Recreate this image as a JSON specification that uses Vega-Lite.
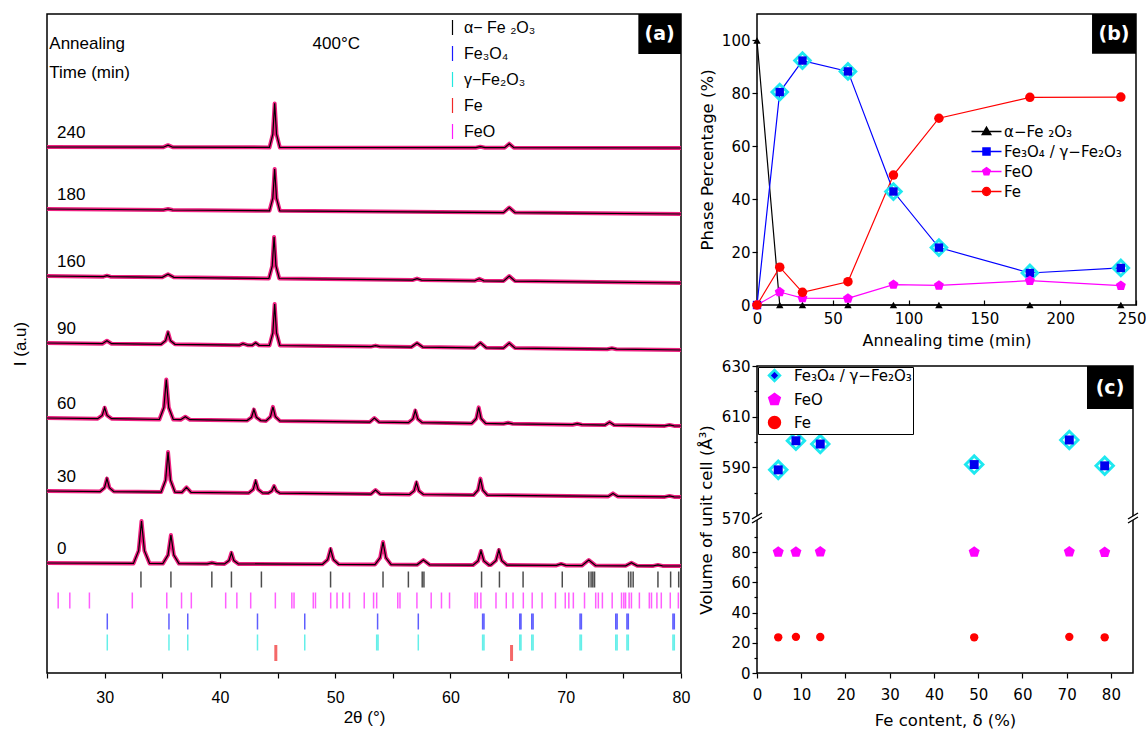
{
"$schema": "https://vega.github.io/schema/vega-lite/v6.json",
"background": "white",
"padding": {"left": 10, "top": 13, "right": 6, "bottom": 0},
"config": {
  "view": {"stroke": "black", "strokeWidth": 1.5},
  "axis": {"grid": false, "domain": false, "tickColor": "black", "labelColor": "black", "titleColor": "black", "titleFontWeight": "normal", "tickWidth": 1.2}
},
"datasets": {
  "xrd": [
    {"s":"240","x":25,"y":526},{"s":"240","x":35.1,"y":525.8},{"s":"240","x":35.5,"y":527.8},{"s":"240","x":35.9,"y":525.8},{"s":"240","x":44.3,"y":525.6},{"s":"240","x":44.59,"y":538.8},{"s":"240","x":44.75,"y":569.6},{"s":"240","x":44.91,"y":538.8},{"s":"240","x":45.2,"y":525.6},{"s":"240","x":62.2,"y":525.3},{"s":"240","x":62.6,"y":526.3},{"s":"240","x":63.0,"y":525.3},{"s":"240","x":64.7,"y":525.3},{"s":"240","x":65.1,"y":529.3},{"s":"240","x":65.5,"y":525.3},{"s":"240","x":80,"y":525},
    {"s":"180","x":25,"y":464},{"s":"180","x":35.1,"y":463.0},{"s":"180","x":35.5,"y":464.0},{"s":"180","x":35.9,"y":463.0},{"s":"180","x":44.3,"y":462.2},{"s":"180","x":44.59,"y":474.8},{"s":"180","x":44.75,"y":504},{"s":"180","x":44.91,"y":474.8},{"s":"180","x":45.2,"y":462.2},{"s":"180","x":64.6,"y":460.4},{"s":"180","x":65.1,"y":465.4},{"s":"180","x":65.6,"y":460.4},{"s":"180","x":80,"y":459},
    {"s":"160","x":25,"y":397},{"s":"160","x":29.9,"y":396.3},{"s":"160","x":30.2,"y":397.3},{"s":"160","x":30.5,"y":396.3},{"s":"160","x":35.0,"y":395.7},{"s":"160","x":35.5,"y":398.7},{"s":"160","x":36.0,"y":395.7},{"s":"160","x":44.25,"y":394.5},{"s":"160","x":44.54,"y":407},{"s":"160","x":44.7,"y":436},{"s":"160","x":44.86,"y":407},{"s":"160","x":45.15,"y":394.5},{"s":"160","x":56.7,"y":392.9},{"s":"160","x":57.1,"y":394.4},{"s":"160","x":57.5,"y":392.9},{"s":"160","x":62.1,"y":392.2},{"s":"160","x":62.5,"y":394.2},{"s":"160","x":62.9,"y":392.2},{"s":"160","x":64.6,"y":391.9},{"s":"160","x":65.1,"y":396.9},{"s":"160","x":65.6,"y":391.9},{"s":"160","x":80,"y":390},
    {"s":"90","x":25,"y":330},{"s":"90","x":29.8,"y":329.3},{"s":"90","x":30.2,"y":332.3},{"s":"90","x":30.6,"y":329.3},{"s":"90","x":34.9,"y":328.7},{"s":"90","x":35.29,"y":332.3},{"s":"90","x":35.5,"y":340.7},{"s":"90","x":35.71,"y":332.3},{"s":"90","x":36.1,"y":328.7},{"s":"90","x":41.7,"y":327.8},{"s":"90","x":42.0,"y":329.3},{"s":"90","x":42.4,"y":327.8},{"s":"90","x":42.8,"y":327.7},{"s":"90","x":43.1,"y":330.2},{"s":"90","x":43.4,"y":327.7},{"s":"90","x":44.3,"y":327.5},{"s":"90","x":44.59,"y":340},{"s":"90","x":44.75,"y":369},{"s":"90","x":44.91,"y":340},{"s":"90","x":45.2,"y":327.5},{"s":"90","x":53.1,"y":326.4},{"s":"90","x":53.5,"y":327.4},{"s":"90","x":53.9,"y":326.4},{"s":"90","x":56.6,"y":325.9},{"s":"90","x":57.1,"y":329.9},{"s":"90","x":57.6,"y":325.9},{"s":"90","x":62.1,"y":325.2},{"s":"90","x":62.6,"y":330.2},{"s":"90","x":63.1,"y":325.2},{"s":"90","x":64.6,"y":324.9},{"s":"90","x":65.1,"y":329.9},{"s":"90","x":65.6,"y":324.9},{"s":"90","x":73.6,"y":323.8},{"s":"90","x":74.0,"y":324.8},{"s":"90","x":74.4,"y":323.8},{"s":"90","x":80,"y":323},
    {"s":"60","x":25,"y":255},{"s":"60","x":29.4,"y":254.3},{"s":"60","x":29.79,"y":257.6},{"s":"60","x":30.0,"y":265.3},{"s":"60","x":30.21,"y":257.6},{"s":"60","x":30.6,"y":254.3},{"s":"60","x":34.75,"y":253.5},{"s":"60","x":35.14,"y":265.5},{"s":"60","x":35.35,"y":293.5},{"s":"60","x":35.56,"y":265.5},{"s":"60","x":35.95,"y":253.5},{"s":"60","x":36.6,"y":253.3},{"s":"60","x":37.0,"y":256.3},{"s":"60","x":37.4,"y":253.3},{"s":"60","x":42.35,"y":252.4},{"s":"60","x":42.74,"y":255.7},{"s":"60","x":42.95,"y":263.4},{"s":"60","x":43.16,"y":255.7},{"s":"60","x":43.55,"y":252.4},{"s":"60","x":44.0,"y":252.1},{"s":"60","x":44.39,"y":256.3},{"s":"60","x":44.6,"y":266.1},{"s":"60","x":44.81,"y":256.3},{"s":"60","x":45.2,"y":252.1},{"s":"60","x":53.0,"y":250.9},{"s":"60","x":53.4,"y":254.9},{"s":"60","x":53.8,"y":250.9},{"s":"60","x":56.35,"y":250.4},{"s":"60","x":56.74,"y":254.0},{"s":"60","x":56.95,"y":262.4},{"s":"60","x":57.16,"y":254.0},{"s":"60","x":57.55,"y":250.4},{"s":"60","x":61.85,"y":249.6},{"s":"60","x":62.24,"y":254.4},{"s":"60","x":62.45,"y":265.6},{"s":"60","x":62.66,"y":254.4},{"s":"60","x":63.05,"y":249.6},{"s":"60","x":64.6,"y":249.2},{"s":"60","x":65.0,"y":250.2},{"s":"60","x":65.4,"y":249.2},{"s":"60","x":70.6,"y":248.3},{"s":"60","x":71.0,"y":249.3},{"s":"60","x":71.4,"y":248.3},{"s":"60","x":73.4,"y":247.9},{"s":"60","x":73.8,"y":250.9},{"s":"60","x":74.2,"y":247.9},{"s":"60","x":78.6,"y":247.1},{"s":"60","x":79.0,"y":248.1},{"s":"60","x":79.4,"y":247.1},{"s":"60","x":80,"y":247},
    {"s":"30","x":25,"y":182},{"s":"30","x":29.6,"y":181.4},{"s":"30","x":29.99,"y":185.3},{"s":"30","x":30.2,"y":194.4},{"s":"30","x":30.41,"y":185.3},{"s":"30","x":30.8,"y":181.4},{"s":"30","x":34.9,"y":180.9},{"s":"30","x":35.29,"y":192.9},{"s":"30","x":35.5,"y":220.9},{"s":"30","x":35.71,"y":192.9},{"s":"30","x":36.1,"y":180.9},{"s":"30","x":36.7,"y":180.7},{"s":"30","x":37.1,"y":185.7},{"s":"30","x":37.5,"y":180.7},{"s":"30","x":42.5,"y":180.0},{"s":"30","x":42.89,"y":183.6},{"s":"30","x":43.1,"y":192.0},{"s":"30","x":43.31,"y":183.6},{"s":"30","x":43.7,"y":180.0},{"s":"30","x":44.2,"y":179.9},{"s":"30","x":44.5,"y":182.0},{"s":"30","x":44.7,"y":186.9},{"s":"30","x":44.9,"y":182.0},{"s":"30","x":45.2,"y":179.9},{"s":"30","x":53.1,"y":178.9},{"s":"30","x":53.5,"y":182.9},{"s":"30","x":53.9,"y":178.9},{"s":"30","x":56.45,"y":178.5},{"s":"30","x":56.84,"y":182.1},{"s":"30","x":57.05,"y":190.5},{"s":"30","x":57.26,"y":182.1},{"s":"30","x":57.65,"y":178.5},{"s":"30","x":62.0,"y":177.9},{"s":"30","x":62.39,"y":182.9},{"s":"30","x":62.6,"y":194.4},{"s":"30","x":62.81,"y":182.9},{"s":"30","x":63.2,"y":177.9},{"s":"30","x":73.7,"y":176.6},{"s":"30","x":74.1,"y":179.6},{"s":"30","x":74.5,"y":176.6},{"s":"30","x":78.6,"y":176.1},{"s":"30","x":79.0,"y":177.1},{"s":"30","x":79.4,"y":176.1},{"s":"30","x":80,"y":176},
    {"s":"0","x":25,"y":110},{"s":"0","x":32.5,"y":109.6},{"s":"0","x":32.95,"y":122.3},{"s":"0","x":33.2,"y":152.0},{"s":"0","x":33.45,"y":122.3},{"s":"0","x":33.9,"y":109.6},{"s":"0","x":35.05,"y":109.4},{"s":"0","x":35.5,"y":118.0},{"s":"0","x":35.75,"y":138.0},{"s":"0","x":36.0,"y":118.0},{"s":"0","x":36.45,"y":109.4},{"s":"0","x":38.9,"y":109.2},{"s":"0","x":39.3,"y":110.2},{"s":"0","x":39.7,"y":109.2},{"s":"0","x":40.4,"y":109.1},{"s":"0","x":40.79,"y":112.4},{"s":"0","x":41.0,"y":120.1},{"s":"0","x":41.21,"y":112.4},{"s":"0","x":41.6,"y":109.1},{"s":"0","x":48.9,"y":108.7},{"s":"0","x":49.35,"y":113.3},{"s":"0","x":49.6,"y":124.0},{"s":"0","x":49.85,"y":113.3},{"s":"0","x":50.3,"y":108.7},{"s":"0","x":53.45,"y":108.4},{"s":"0","x":53.9,"y":115.2},{"s":"0","x":54.15,"y":131.0},{"s":"0","x":54.4,"y":115.2},{"s":"0","x":54.85,"y":108.4},{"s":"0","x":57.1,"y":108.2},{"s":"0","x":57.65,"y":113.0},{"s":"0","x":58.2,"y":108.2},{"s":"0","x":61.95,"y":107.9},{"s":"0","x":62.4,"y":112.1},{"s":"0","x":62.65,"y":122.0},{"s":"0","x":62.9,"y":112.1},{"s":"0","x":63.35,"y":107.9},{"s":"0","x":63.5,"y":107.9},{"s":"0","x":63.95,"y":112.4},{"s":"0","x":64.2,"y":123.0},{"s":"0","x":64.45,"y":112.4},{"s":"0","x":64.9,"y":107.9},{"s":"0","x":69.2,"y":107.6},{"s":"0","x":69.6,"y":109.1},{"s":"0","x":70.0,"y":107.6},{"s":"0","x":71.4,"y":107.4},{"s":"0","x":72.0,"y":113.0},{"s":"0","x":72.6,"y":107.4},{"s":"0","x":75.2,"y":107.2},{"s":"0","x":75.7,"y":110.2},{"s":"0","x":76.2,"y":107.2},{"s":"0","x":77.6,"y":107.1},{"s":"0","x":78.0,"y":108.1},{"s":"0","x":78.4,"y":107.1},{"s":"0","x":80,"y":107}
  ],
  "refs": [
    {"p":"α− Fe ₂O₃","x":33.15},{"p":"α− Fe ₂O₃","x":35.75},{"p":"α− Fe ₂O₃","x":39.3},{"p":"α− Fe ₂O₃","x":41.0},{"p":"α− Fe ₂O₃","x":43.6},{"p":"α− Fe ₂O₃","x":49.6},{"p":"α− Fe ₂O₃","x":54.15},{"p":"α− Fe ₂O₃","x":56.35},{"p":"α− Fe ₂O₃","x":57.55},{"p":"α− Fe ₂O₃","x":57.7},{"p":"α− Fe ₂O₃","x":62.7},{"p":"α− Fe ₂O₃","x":64.25},{"p":"α− Fe ₂O₃","x":66.3},{"p":"α− Fe ₂O₃","x":69.7},{"p":"α− Fe ₂O₃","x":72.0},{"p":"α− Fe ₂O₃","x":72.2},{"p":"α− Fe ₂O₃","x":72.35},{"p":"α− Fe ₂O₃","x":72.5},{"p":"α− Fe ₂O₃","x":75.45},{"p":"α− Fe ₂O₃","x":75.65},{"p":"α− Fe ₂O₃","x":75.85},{"p":"α− Fe ₂O₃","x":78.0},{"p":"α− Fe ₂O₃","x":79.1},{"p":"α− Fe ₂O₃","x":79.8},
    {"p":"FeO","x":25.97},{"p":"FeO","x":26.98},{"p":"FeO","x":28.68},{"p":"FeO","x":32.4},{"p":"FeO","x":35.39},{"p":"FeO","x":36.67},{"p":"FeO","x":37.52},{"p":"FeO","x":40.5},{"p":"FeO","x":41.47},{"p":"FeO","x":42.67},{"p":"FeO","x":44.81},{"p":"FeO","x":46.24},{"p":"FeO","x":46.43},{"p":"FeO","x":48.1},{"p":"FeO","x":48.29},{"p":"FeO","x":49.61},{"p":"FeO","x":50.16},{"p":"FeO","x":50.66},{"p":"FeO","x":51.24},{"p":"FeO","x":52.52},{"p":"FeO","x":53.33},{"p":"FeO","x":53.6},{"p":"FeO","x":55.43},{"p":"FeO","x":55.62},{"p":"FeO","x":57.09},{"p":"FeO","x":58.33},{"p":"FeO","x":59.22},{"p":"FeO","x":59.92},{"p":"FeO","x":62.13},{"p":"FeO","x":62.33},{"p":"FeO","x":62.64},{"p":"FeO","x":63.95},{"p":"FeO","x":64.84},{"p":"FeO","x":65.43},{"p":"FeO","x":66.32},{"p":"FeO","x":67.09},{"p":"FeO","x":67.95},{"p":"FeO","x":69.11},{"p":"FeO","x":69.96},{"p":"FeO","x":70.27},{"p":"FeO","x":70.66},{"p":"FeO","x":71.63},{"p":"FeO","x":72.6},{"p":"FeO","x":72.83},{"p":"FeO","x":73.18},{"p":"FeO","x":74.03},{"p":"FeO","x":74.84},{"p":"FeO","x":75.04},{"p":"FeO","x":75.19},{"p":"FeO","x":75.5},{"p":"FeO","x":75.7},{"p":"FeO","x":76.39},{"p":"FeO","x":77.25},{"p":"FeO","x":77.44},{"p":"FeO","x":77.91},{"p":"FeO","x":78.29},{"p":"FeO","x":79.07},{"p":"FeO","x":79.77},
    {"p":"Fe₃O₄","x":30.23},{"p":"Fe₃O₄","x":35.58},{"p":"Fe₃O₄","x":37.21},{"p":"Fe₃O₄","x":43.26},{"p":"Fe₃O₄","x":47.36},{"p":"Fe₃O₄","x":53.68},{"p":"Fe₃O₄","x":57.21},{"p":"Fe₃O₄","x":62.79},{"p":"Fe₃O₄","x":62.91},{"p":"Fe₃O₄","x":66.01},{"p":"Fe₃O₄","x":66.12},{"p":"Fe₃O₄","x":67.05},{"p":"Fe₃O₄","x":67.17},{"p":"Fe₃O₄","x":71.24},{"p":"Fe₃O₄","x":71.36},{"p":"Fe₃O₄","x":74.34},{"p":"Fe₃O₄","x":74.46},{"p":"Fe₃O₄","x":75.31},{"p":"Fe₃O₄","x":75.43},{"p":"Fe₃O₄","x":79.3},{"p":"Fe₃O₄","x":79.42},
    {"p":"γ−Fe₂O₃","x":30.23},{"p":"γ−Fe₂O₃","x":35.58},{"p":"γ−Fe₂O₃","x":37.21},{"p":"γ−Fe₂O₃","x":43.26},{"p":"γ−Fe₂O₃","x":47.36},{"p":"γ−Fe₂O₃","x":53.6},{"p":"γ−Fe₂O₃","x":53.72},{"p":"γ−Fe₂O₃","x":57.21},{"p":"γ−Fe₂O₃","x":62.79},{"p":"γ−Fe₂O₃","x":62.91},{"p":"γ−Fe₂O₃","x":66.01},{"p":"γ−Fe₂O₃","x":66.12},{"p":"γ−Fe₂O₃","x":67.05},{"p":"γ−Fe₂O₃","x":67.17},{"p":"γ−Fe₂O₃","x":71.24},{"p":"γ−Fe₂O₃","x":71.36},{"p":"γ−Fe₂O₃","x":74.34},{"p":"γ−Fe₂O₃","x":74.46},{"p":"γ−Fe₂O₃","x":75.31},{"p":"γ−Fe₂O₃","x":75.43},{"p":"γ−Fe₂O₃","x":79.3},{"p":"γ−Fe₂O₃","x":79.42},
    {"p":"Fe","x":44.85},{"p":"Fe","x":65.3}
  ],
  "phase": [
    {"s":"α−Fe ₂O₃","t":0,"v":100},{"s":"α−Fe ₂O₃","t":15,"v":0},{"s":"α−Fe ₂O₃","t":30,"v":0},{"s":"α−Fe ₂O₃","t":60,"v":0},{"s":"α−Fe ₂O₃","t":90,"v":0},{"s":"α−Fe ₂O₃","t":120,"v":0},{"s":"α−Fe ₂O₃","t":180,"v":0},{"s":"α−Fe ₂O₃","t":240,"v":0},
    {"s":"Fe₃O₄ / γ−Fe₂O₃","t":0,"v":0},{"s":"Fe₃O₄ / γ−Fe₂O₃","t":15,"v":80.5},{"s":"Fe₃O₄ / γ−Fe₂O₃","t":30,"v":92.4},{"s":"Fe₃O₄ / γ−Fe₂O₃","t":60,"v":88.3},{"s":"Fe₃O₄ / γ−Fe₂O₃","t":90,"v":42.9},{"s":"Fe₃O₄ / γ−Fe₂O₃","t":120,"v":21.7},{"s":"Fe₃O₄ / γ−Fe₂O₃","t":180,"v":12.1},{"s":"Fe₃O₄ / γ−Fe₂O₃","t":240,"v":14.0},
    {"s":"FeO","t":0,"v":0},{"s":"FeO","t":15,"v":4.9},{"s":"FeO","t":30,"v":2.6},{"s":"FeO","t":60,"v":2.5},{"s":"FeO","t":90,"v":7.7},{"s":"FeO","t":120,"v":7.4},{"s":"FeO","t":180,"v":9.2},{"s":"FeO","t":240,"v":7.3},
    {"s":"Fe","t":0,"v":0},{"s":"Fe","t":15,"v":14.3},{"s":"Fe","t":30,"v":4.8},{"s":"Fe","t":60,"v":8.8},{"s":"Fe","t":90,"v":49.1},{"s":"Fe","t":120,"v":70.6},{"s":"Fe","t":180,"v":78.5},{"s":"Fe","t":240,"v":78.6}
  ],
  "vol": [
    {"p":"Fe₃O₄ / γ−Fe₂O₃","d":4.8,"v":589.0},{"p":"Fe₃O₄ / γ−Fe₂O₃","d":8.8,"v":600.5},{"p":"Fe₃O₄ / γ−Fe₂O₃","d":14.3,"v":599.2},{"p":"Fe₃O₄ / γ−Fe₂O₃","d":49.1,"v":591.1},{"p":"Fe₃O₄ / γ−Fe₂O₃","d":70.6,"v":600.8},{"p":"Fe₃O₄ / γ−Fe₂O₃","d":78.6,"v":590.6},
    {"p":"FeO","d":4.8,"v":80.0},{"p":"FeO","d":8.8,"v":80.0},{"p":"FeO","d":14.3,"v":80.1},{"p":"FeO","d":49.1,"v":79.9},{"p":"FeO","d":70.6,"v":80.1},{"p":"FeO","d":78.6,"v":79.8},
    {"p":"Fe","d":4.8,"v":23.6},{"p":"Fe","d":8.8,"v":23.9},{"p":"Fe","d":14.3,"v":23.8},{"p":"Fe","d":49.1,"v":23.6},{"p":"Fe","d":70.6,"v":23.9},{"p":"Fe","d":78.6,"v":23.6}
  ]
},
"resolve": {"scale": {"color": "independent", "fill": "independent", "stroke": "independent", "shape": "independent"}},
"spacing": 7,
"hconcat": [
  {
    "width": 634, "height": 659,
    "resolve": {"scale": {"y": "independent"}},
    "layer": [
      {
        "data": {"name": "xrd"},
        "mark": {"type": "line", "color": "#ee2080", "strokeWidth": 4, "strokeJoin": "round"},
        "encoding": {
          "x": {"field": "x", "type": "quantitative", "scale": {"domain": [25, 80], "nice": false, "zero": false},
                "axis": {"title": "2θ (°)", "values": [25,30,35,40,45,50,55,60,65,70,75,80], "labelExpr": "datum.value % 10 === 0 ? datum.label : ''", "tickSize": 5, "labelFlush": false, "labelFont": "Liberation Sans", "labelFontSize": 16, "labelPadding": 11, "titleFont": "Liberation Sans", "titleFontSize": 17, "titlePadding": 4}},
          "y": {"field": "y", "type": "quantitative", "scale": {"domain": [0, 659], "nice": false, "zero": false},
                "axis": {"title": "I (a.u)", "labels": false, "ticks": false, "titleFont": "Liberation Sans", "titleFontSize": 17, "titlePadding": 18}},
          "detail": {"field": "s"}
        }
      },
      {
        "data": {"name": "xrd"},
        "mark": {"type": "line", "color": "black", "strokeWidth": 1.2},
        "encoding": {
          "x": {"field": "x", "type": "quantitative"},
          "y": {"field": "y", "type": "quantitative", "scale": {"domain": [0, 659], "nice": false, "zero": false}, "axis": null},
          "detail": {"field": "s"}
        }
      },
      {
        "data": {"name": "xrd"},
        "transform": [{"filter": "datum.x === 25"}],
        "mark": {"type": "text", "align": "left", "baseline": "middle", "dx": 10, "dy": -14, "font": "Liberation Sans", "fontSize": 17, "color": "black"},
        "encoding": {
          "x": {"field": "x", "type": "quantitative"},
          "y": {"field": "y", "type": "quantitative", "scale": {"domain": [0, 659], "nice": false, "zero": false}, "axis": null},
          "text": {"field": "s"}
        }
      },
      {
        "data": {"name": "refs"},
        "transform": [{"filter": "datum.p !== 'Fe'"}],
        "mark": {"type": "tick", "size": 16, "thickness": 1.5},
        "encoding": {
          "x": {"field": "x", "type": "quantitative"},
          "y": {"field": "p", "type": "nominal", "scale": {"type": "point", "domain": ["α− Fe ₂O₃", "s1", "FeO", "s2", "Fe₃O₄", "s3", "γ−Fe₂O₃", "Fe"], "range": [565.5, 639], "padding": 0}, "axis": null},
          "color": {"field": "p", "type": "nominal", "scale": {"domain": ["α− Fe ₂O₃", "Fe₃O₄", "γ−Fe₂O₃", "Fe", "FeO"], "range": ["#000000", "#1a1aff", "#22e8e0", "#f02828", "#ff1aff"]},
                    "legend": {"title": null, "orient": "none", "legendX": 397, "legendY": 5, "symbolType": "M-0.08,-1H0.08V1H-0.08Z", "symbolSize": 225, "symbolOpacity": 1, "labelFont": "Liberation Sans", "labelFontSize": 16, "labelColor": "black", "labelOffset": 3, "rowPadding": 9, "padding": 0}}
        }
      },
      {
        "data": {"name": "refs"},
        "transform": [{"filter": "datum.p === 'Fe'"}],
        "mark": {"type": "tick", "size": 16, "thickness": 3},
        "encoding": {
          "x": {"field": "x", "type": "quantitative"},
          "y": {"field": "p", "type": "nominal", "scale": {"type": "point", "domain": ["α− Fe ₂O₃", "s1", "FeO", "s2", "Fe₃O₄", "s3", "γ−Fe₂O₃", "Fe"], "range": [565.5, 639], "padding": 0}, "axis": null},
          "color": {"field": "p", "type": "nominal", "scale": {"domain": ["α− Fe ₂O₃", "Fe₃O₄", "γ−Fe₂O₃", "Fe", "FeO"], "range": ["#000000", "#1a1aff", "#22e8e0", "#f02828", "#ff1aff"]},
                    "legend": {"title": null, "orient": "none", "legendX": 397, "legendY": 5, "symbolType": "M-0.08,-1H0.08V1H-0.08Z", "symbolSize": 225, "symbolOpacity": 1, "labelFont": "Liberation Sans", "labelFontSize": 16, "labelColor": "black", "labelOffset": 3, "rowPadding": 9, "padding": 0}}
        }
      },
      {
        "data": {"values": [{}]},
        "mark": {"type": "text", "text": "Annealing", "align": "left", "baseline": "middle", "font": "Liberation Sans", "fontSize": 17, "color": "black"},
        "encoding": {"x": {"datum": 25.2}, "y": {"datum": 629, "scale": {"domain": [0, 659], "nice": false, "zero": false}, "axis": null}}
      },
      {
        "data": {"values": [{}]},
        "mark": {"type": "text", "text": "Time (min)", "align": "left", "baseline": "middle", "font": "Liberation Sans", "fontSize": 17, "color": "black"},
        "encoding": {"x": {"datum": 25.2}, "y": {"datum": 600, "scale": {"domain": [0, 659], "nice": false, "zero": false}, "axis": null}}
      },
      {
        "data": {"values": [{}]},
        "mark": {"type": "text", "text": "400°C", "align": "center", "baseline": "middle", "font": "Liberation Sans", "fontSize": 17, "color": "black"},
        "encoding": {"x": {"datum": 50.1}, "y": {"datum": 629, "scale": {"domain": [0, 659], "nice": false, "zero": false}, "axis": null}}
      },
      {
        "data": {"values": [{}]},
        "mark": {"type": "rect", "color": "black"},
        "encoding": {"x": {"datum": 76.3}, "x2": {"datum": 80}, "y": {"datum": 619, "scale": {"domain": [0, 659], "nice": false, "zero": false}, "axis": null}, "y2": {"datum": 659}}
      },
      {
        "data": {"values": [{}]},
        "mark": {"type": "text", "text": "(a)", "align": "center", "baseline": "middle", "font": "DejaVu Sans", "fontWeight": "bold", "fontSize": 19, "color": "white"},
        "encoding": {"x": {"datum": 78.15}, "y": {"datum": 639, "scale": {"domain": [0, 659], "nice": false, "zero": false}, "axis": null}}
      }
    ]
  },
  {
    "spacing": 9,
    "resolve": {"scale": {"color": "independent", "fill": "independent", "stroke": "independent", "shape": "independent"}},
    "vconcat": [
      {
        "width": 379, "height": 291,
        "data": {"name": "phase"},
        "layer": [
          {
            "mark": {"type": "line", "strokeWidth": 1.2},
            "encoding": {
              "x": {"field": "t", "type": "quantitative", "scale": {"domain": [0, 250], "nice": false},
                    "axis": {"title": "Annealing time (min)", "values": [0,25,50,75,100,125,150,175,200,225,250], "labelExpr": "datum.value % 50 === 0 ? datum.label : ''", "tickSize": {"condition": {"test": "datum.value % 50 === 0", "value": -5}, "value": -3}, "labelAlign": {"condition": {"test": "datum.value === 250", "value": "right"}, "value": "center"}, "labelOffset": {"condition": {"test": "datum.value === 250", "value": 10}, "value": 0}, "labelFlush": false, "labelPadding": 11, "labelFont": "DejaVu Sans", "labelFontSize": 15, "titleFont": "DejaVu Sans", "titleFontSize": 16, "titlePadding": 6}},
              "y": {"field": "v", "type": "quantitative", "scale": {"domain": [0, 110], "nice": false},
                    "axis": {"title": "Phase Percentage (%)", "values": [0,10,20,30,40,50,60,70,80,90,100], "labelExpr": "datum.value % 20 === 0 ? datum.label : ''", "tickSize": {"condition": {"test": "datum.value % 20 === 0", "value": 5}, "value": 3}, "labelFlush": false, "labelPadding": 2, "labelFont": "DejaVu Sans", "labelFontSize": 15, "titleFont": "DejaVu Sans", "titleFontSize": 16.5, "titlePadding": 6}},
              "stroke": {"field": "s", "type": "nominal", "scale": {"domain": ["α−Fe ₂O₃", "Fe₃O₄ / γ−Fe₂O₃", "FeO", "Fe"], "range": ["#000000", "#0000ff", "#ff00ff", "#ff0000"]},
                        "legend": {"title": null, "orient": "none", "legendX": 222, "legendY": 110, "symbolSize": 64, "symbolStrokeWidth": 1.3, "symbolOpacity": 1, "labelFont": "DejaVu Sans", "labelFontSize": 15, "labelColor": "black", "labelOffset": 10, "rowPadding": 4, "padding": 0}}
            }
          },
          {
            "transform": [{"filter": "datum.s === 'Fe₃O₄ / γ−Fe₂O₃' && datum.t > 0"}],
            "mark": {"type": "point", "shape": "diamond", "filled": false, "stroke": "#1ee8f0", "strokeWidth": 3, "size": 240, "opacity": 1},
            "encoding": {"x": {"field": "t", "type": "quantitative"}, "y": {"field": "v", "type": "quantitative"}}
          },
          {
            "transform": [{"filter": "datum.s === 'α−Fe ₂O₃'"}],
            "mark": {"type": "point", "shape": "triangle-up", "filled": true, "color": "black", "size": 55, "opacity": 1},
            "encoding": {"x": {"field": "t", "type": "quantitative"}, "y": {"field": "v", "type": "quantitative"}}
          },
          {
            "transform": [{"filter": "datum.s === 'Fe₃O₄ / γ−Fe₂O₃'"}],
            "mark": {"type": "point", "shape": "square", "filled": true, "color": "#0000ee", "size": 70, "opacity": 1},
            "encoding": {"x": {"field": "t", "type": "quantitative"}, "y": {"field": "v", "type": "quantitative"}}
          },
          {
            "transform": [{"filter": "datum.s === 'FeO'"}],
            "mark": {"type": "point", "shape": "M0,-1L0.951,-0.309L0.588,0.809L-0.588,0.809L-0.951,-0.309Z", "filled": true, "color": "#ff00ff", "size": 110, "opacity": 1},
            "encoding": {"x": {"field": "t", "type": "quantitative"}, "y": {"field": "v", "type": "quantitative"}}
          },
          {
            "transform": [{"filter": "datum.s === 'Fe'"}],
            "mark": {"type": "point", "shape": "circle", "filled": true, "color": "#ff0000", "size": 90, "opacity": 1},
            "encoding": {"x": {"field": "t", "type": "quantitative"}, "y": {"field": "v", "type": "quantitative"}}
          },
          {
            "mark": {"type": "point", "filled": true, "size": 0, "opacity": 1},
            "encoding": {
              "x": {"field": "t", "type": "quantitative"},
              "y": {"field": "v", "type": "quantitative"},
              "shape": {"field": "s", "type": "nominal", "scale": {"domain": ["α−Fe ₂O₃", "Fe₃O₄ / γ−Fe₂O₃", "FeO", "Fe"], "range": ["M-3.75,0H3.75M0,-1.1L1.1,0.8L-1.1,0.8Z", "M-3.75,0H3.75M-0.9,-0.9H0.9V0.9H-0.9Z", "M-3.75,0H3.75M0,-1L0.951,-0.309L0.588,0.809L-0.588,0.809L-0.951,-0.309Z", "M-3.75,0H3.75M1,0A1,1,0,1,1,-1,0A1,1,0,1,1,1,0Z"]},
                        "legend": {"title": null, "orient": "none", "legendX": 222, "legendY": 110, "symbolSize": 64, "symbolStrokeWidth": 1.3, "symbolOpacity": 1, "labelFont": "DejaVu Sans", "labelFontSize": 15, "labelColor": "black", "labelOffset": 10, "rowPadding": 4, "padding": 0}},
              "fill": {"field": "s", "type": "nominal", "scale": {"domain": ["α−Fe ₂O₃", "Fe₃O₄ / γ−Fe₂O₃", "FeO", "Fe"], "range": ["#000000", "#0000ff", "#ff00ff", "#ff0000"]},
                        "legend": {"title": null, "orient": "none", "legendX": 222, "legendY": 110, "symbolSize": 64, "symbolStrokeWidth": 1.3, "symbolOpacity": 1, "labelFont": "DejaVu Sans", "labelFontSize": 15, "labelColor": "black", "labelOffset": 10, "rowPadding": 4, "padding": 0}},
              "stroke": {"field": "s", "type": "nominal", "scale": {"domain": ["α−Fe ₂O₃", "Fe₃O₄ / γ−Fe₂O₃", "FeO", "Fe"], "range": ["#000000", "#0000ff", "#ff00ff", "#ff0000"]},
                        "legend": {"title": null, "orient": "none", "legendX": 222, "legendY": 110, "symbolSize": 64, "symbolStrokeWidth": 1.3, "symbolOpacity": 1, "labelFont": "DejaVu Sans", "labelFontSize": 15, "labelColor": "black", "labelOffset": 10, "rowPadding": 4, "padding": 0}}
            }
          },
          {
            "data": {"values": [{}]},
            "mark": {"type": "rect", "color": "black"},
            "encoding": {"x": {"datum": 221}, "x2": {"datum": 250}, "y": {"datum": 95}, "y2": {"datum": 110}}
          },
          {
            "data": {"values": [{}]},
            "mark": {"type": "text", "text": "(b)", "align": "center", "baseline": "middle", "font": "DejaVu Sans", "fontWeight": "bold", "fontSize": 19, "color": "white"},
            "encoding": {"x": {"datum": 235.5}, "y": {"datum": 102.5}}
          }
        ]
      },
      {
        "width": 376, "height": 307,
        "data": {"name": "vol"},
        "resolve": {"scale": {"y": "independent"}},
        "layer": [
          {
            "transform": [{"filter": "datum.p === 'Fe₃O₄ / γ−Fe₂O₃'"}],
            "mark": {"type": "point", "shape": "diamond", "filled": false, "stroke": "#1ee8f0", "strokeWidth": 3, "size": 300, "opacity": 1},
            "encoding": {
              "x": {"field": "d", "type": "quantitative", "scale": {"domain": [0, 85], "nice": false},
                    "axis": {"title": "Fe content, δ (%)", "values": [0,5,10,15,20,25,30,35,40,45,50,55,60,65,70,75,80,85], "labelExpr": "datum.value % 10 === 0 ? datum.label : ''", "tickSize": {"condition": {"test": "datum.value % 10 === 0", "value": 5}, "value": 3}, "labelFlush": false, "labelPadding": 9, "labelFont": "DejaVu Sans", "labelFontSize": 15, "titleFont": "DejaVu Sans", "titleFontSize": 16.5, "titlePadding": 10}},
              "y": {"field": "v", "type": "quantitative", "scale": {"domain": [570, 630], "range": [152, 0], "nice": false, "zero": false},
                    "axis": {"orient": "left", "title": null, "values": [570,580,590,600,610,620,630], "labelExpr": "datum.value % 20 === 10 ? datum.label : ''", "tickSize": {"condition": {"test": "datum.value % 20 === 10", "value": 5}, "value": 3}, "labelFlush": false, "labelPadding": 2, "labelFont": "DejaVu Sans", "labelFontSize": 15}}
            }
          },
          {
            "transform": [{"filter": "datum.p === 'Fe₃O₄ / γ−Fe₂O₃'"}],
            "mark": {"type": "point", "shape": "square", "filled": true, "color": "#0000ee", "size": 80, "opacity": 1},
            "encoding": {
              "x": {"field": "d", "type": "quantitative"},
              "y": {"field": "v", "type": "quantitative", "scale": {"domain": [570, 630], "range": [152, 0], "nice": false, "zero": false}, "axis": null}
            }
          },
          {
            "transform": [{"filter": "datum.p === 'FeO'"}],
            "mark": {"type": "point", "shape": "M0,-1L0.951,-0.309L0.588,0.809L-0.588,0.809L-0.951,-0.309Z", "filled": true, "color": "#ff00ff", "size": 135, "opacity": 1},
            "encoding": {
              "x": {"field": "d", "type": "quantitative"},
              "y": {"field": "v", "type": "quantitative", "scale": {"domain": [0, 101.5], "range": [307, 153.5], "nice": false, "zero": false},
                    "axis": {"orient": "left", "title": "Volume of unit cell (Å³)", "titleY": 153.5, "values": [0,10,20,30,40,50,60,70,80,90], "labelExpr": "datum.value % 20 === 0 ? datum.label : ''", "tickSize": {"condition": {"test": "datum.value % 20 === 0", "value": 5}, "value": 3}, "labelFlush": false, "labelPadding": 2, "labelFont": "DejaVu Sans", "labelFontSize": 15, "titleFont": "DejaVu Sans", "titleFontSize": 16.5, "titlePadding": 16}}
            }
          },
          {
            "transform": [{"filter": "datum.p === 'Fe'"}],
            "mark": {"type": "point", "shape": "circle", "filled": true, "color": "#ff0000", "size": 70, "opacity": 1},
            "encoding": {
              "x": {"field": "d", "type": "quantitative"},
              "y": {"field": "v", "type": "quantitative", "scale": {"domain": [0, 101.5], "range": [307, 153.5], "nice": false, "zero": false}, "axis": null}
            }
          },
          {
            "mark": {"type": "point", "filled": true, "size": 0, "opacity": 1},
            "encoding": {
              "x": {"field": "d", "type": "quantitative"},
              "y": {"field": "v", "type": "quantitative", "scale": {"domain": [0, 650]}, "axis": null},
              "shape": {"field": "p", "type": "nominal", "scale": {"domain": ["Fe₃O₄ / γ−Fe₂O₃", "FeO", "Fe"], "range": ["diamond", "M0,-1L0.951,-0.309L0.588,0.809L-0.588,0.809L-0.951,-0.309Z", "circle"]},
                        "legend": {"title": null, "orient": "none", "legendX": 1, "legendY": 1, "strokeColor": "black", "fillColor": "white", "padding": 1, "symbolOffset": 8, "symbolSize": 120, "symbolStrokeWidth": 2.5, "symbolOpacity": 1, "labelFont": "DejaVu Sans", "labelFontSize": 15, "labelColor": "black", "labelOffset": 12, "labelLimit": 400, "rowPadding": 3, "labelExpr": "datum.label + '\u00a0\u00a0\u00a0\u00a0\u00a0\u00a0\u00a0'"}},
              "fill": {"field": "p", "type": "nominal", "scale": {"domain": ["Fe₃O₄ / γ−Fe₂O₃", "FeO", "Fe"], "range": ["#0000ee", "#ff00ff", "#ff0000"]},
                        "legend": {"title": null, "orient": "none", "legendX": 1, "legendY": 1, "strokeColor": "black", "fillColor": "white", "padding": 1, "symbolOffset": 8, "symbolSize": 120, "symbolStrokeWidth": 2.5, "symbolOpacity": 1, "labelFont": "DejaVu Sans", "labelFontSize": 15, "labelColor": "black", "labelOffset": 12, "labelLimit": 400, "rowPadding": 3, "labelExpr": "datum.label + '\u00a0\u00a0\u00a0\u00a0\u00a0\u00a0\u00a0'"}},
              "stroke": {"field": "p", "type": "nominal", "scale": {"domain": ["Fe₃O₄ / γ−Fe₂O₃", "FeO", "Fe"], "range": ["#1ee8f0", "#ff00ff", "#ff0000"]},
                        "legend": {"title": null, "orient": "none", "legendX": 1, "legendY": 1, "strokeColor": "black", "fillColor": "white", "padding": 1, "symbolOffset": 8, "symbolSize": 120, "symbolStrokeWidth": 2.5, "symbolOpacity": 1, "labelFont": "DejaVu Sans", "labelFontSize": 15, "labelColor": "black", "labelOffset": 12, "labelLimit": 400, "rowPadding": 3, "labelExpr": "datum.label + '\u00a0\u00a0\u00a0\u00a0\u00a0\u00a0\u00a0'"}}
            }
          },
          {
            "data": {"values": [{}]},
            "mark": {"type": "point", "shape": "M-1,0.2L1,-1L1,-0.2L-1,1Z", "filled": true, "color": "white", "size": 100, "opacity": 1},
            "encoding": {"x": {"datum": 0}, "y": {"datum": 570, "scale": {"domain": [570, 630], "range": [152, 0], "nice": false, "zero": false}, "axis": null}}
          },
          {
            "data": {"values": [{}]},
            "mark": {"type": "point", "shape": "M-1,0.2L1,-1L1,-0.2L-1,1Z", "filled": true, "color": "white", "size": 100, "opacity": 1},
            "encoding": {"x": {"datum": 85}, "y": {"datum": 570, "scale": {"domain": [570, 630], "range": [152, 0], "nice": false, "zero": false}, "axis": null}}
          },
          {
            "data": {"values": [{}]},
            "mark": {"type": "point", "shape": "M-1,0.2L1,-1M-1,1L1,-0.2", "filled": false, "color": "black", "strokeWidth": 1.4, "size": 100, "opacity": 1},
            "encoding": {"x": {"datum": 0}, "y": {"datum": 570, "scale": {"domain": [570, 630], "range": [152, 0], "nice": false, "zero": false}, "axis": null}}
          },
          {
            "data": {"values": [{}]},
            "mark": {"type": "point", "shape": "M-1,0.2L1,-1M-1,1L1,-0.2", "filled": false, "color": "black", "strokeWidth": 1.4, "size": 100, "opacity": 1},
            "encoding": {"x": {"datum": 85}, "y": {"datum": 570, "scale": {"domain": [570, 630], "range": [152, 0], "nice": false, "zero": false}, "axis": null}}
          },
          {
            "data": {"values": [{}]},
            "mark": {"type": "rect", "color": "black"},
            "encoding": {"x": {"datum": 74.6}, "x2": {"datum": 85}, "y": {"datum": 613, "scale": {"domain": [570, 630], "range": [152, 0], "nice": false, "zero": false}, "axis": null}, "y2": {"datum": 630}}
          },
          {
            "data": {"values": [{}]},
            "mark": {"type": "text", "text": "(c)", "align": "center", "baseline": "middle", "font": "DejaVu Sans", "fontWeight": "bold", "fontSize": 19, "color": "white"},
            "encoding": {"x": {"datum": 79.8}, "y": {"datum": 621.5, "scale": {"domain": [570, 630], "range": [152, 0], "nice": false, "zero": false}, "axis": null}}
          }
        ]
      }
    ]
  }
]
}
